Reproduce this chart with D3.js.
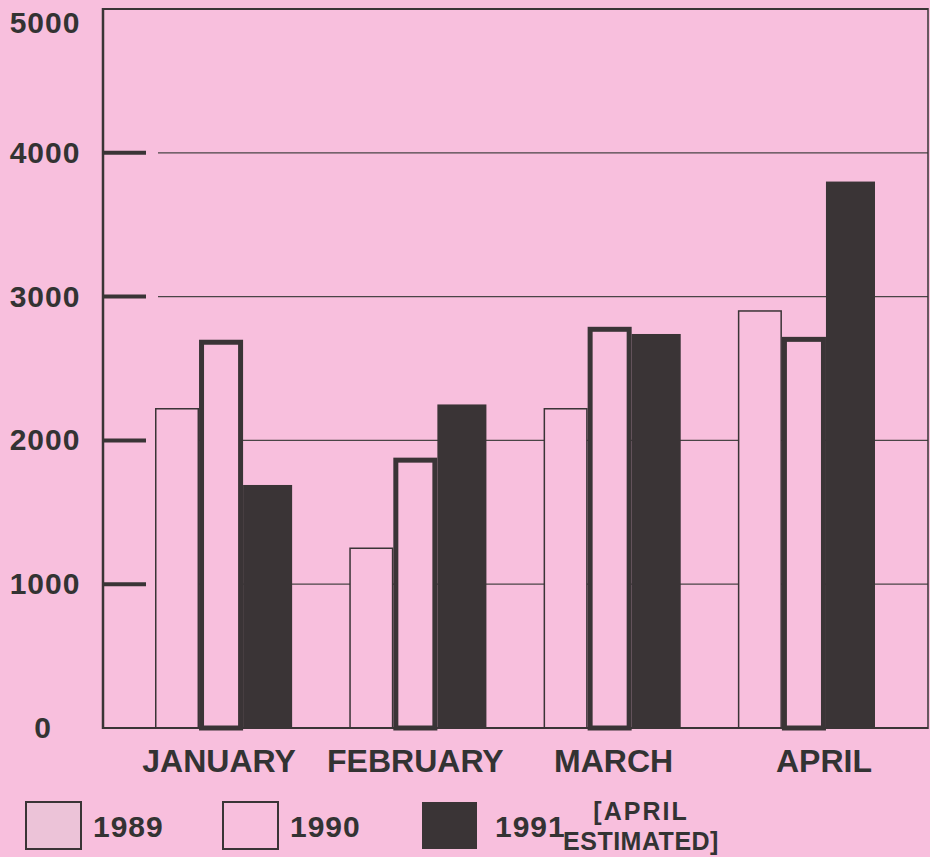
<!DOCTYPE html>
<html>
<head>
    <meta charset="UTF-8">
    <title>Monthly totals 1989-1991</title>
    <script type="text/javascript" src="https://d3js.org/d3.v7.min.js"></script>
    <style>
        html, body { margin: 0; padding: 0; background: #f8bfdd; }
        svg { display: block; }
        text { font-family: "Liberation Sans", Arial, sans-serif; font-weight: bold; fill: #333; }
    </style>
</head>
<body>
    <div id="chart"></div>
    <script>
        var months = ["JANUARY", "FEBRUARY", "MARCH", "APRIL"];
        var years = ["1989", "1990", "1991"];
        var values1989 = [2220, 1250, 2220, 2900];
        var values1990 = [2700, 1880, 2790, 2720];
        var values1991 = [1690, 2250, 2740, 3800];
        var yTicks = [0, 1000, 2000, 3000, 4000, 5000];

        var width = 930, height = 857;
        var ink = "#3a3436", bg = "#f8bfdd";

        var svg = d3.select("#chart").append("svg")
            .attr("width", width).attr("height", height);

        var y = d3.scaleLinear().domain([0, 5000]).range([728, 9]);
        var x = d3.scaleBand().domain(months).range([155, 870]).paddingInner(0.32).paddingOuter(0);
        var xs = d3.scaleBand().domain(years).range([0, x.bandwidth()]);

        // gridlines
        svg.append("g").selectAll("line")
            .data(yTicks.filter(function (d) { return d > 0 && d < 5000; }))
            .enter().append("line")
            .attr("x1", 158).attr("x2", 928)
            .attr("y1", function (d) { return y(d); })
            .attr("y2", function (d) { return y(d); })
            .attr("stroke", "#4a4446").attr("stroke-width", 1.2);

        // short tick marks
        svg.append("g").selectAll("line")
            .data(yTicks.filter(function (d) { return d > 0 && d < 5000; }))
            .enter().append("line")
            .attr("x1", 104).attr("x2", 146)
            .attr("y1", function (d) { return y(d); })
            .attr("y2", function (d) { return y(d); })
            .attr("stroke", ink).attr("stroke-width", 4);

        // tick labels
        svg.append("g").selectAll("text")
            .data(yTicks)
            .enter().append("text")
            .attr("x", function (d) { return d === 0 ? 43 : 45; })
            .attr("y", function (d) { return d === 5000 ? 33 : y(d) + 10; })
            .attr("text-anchor", "middle")
            .attr("font-size", 30)
            .attr("letter-spacing", 1)
            .text(function (d) { return d; });

        var series = [values1989, values1990, values1991];
        var groups = svg.append("g").selectAll("g")
            .data(months)
            .enter().append("g")
            .attr("transform", function (d) { return "translate(" + x(d) + ",0)"; });

        groups.selectAll("rect")
            .data(function (m, i) {
                return years.map(function (yr, k) { return { year: yr, value: series[k][i] }; });
            })
            .enter().append("rect")
            .attr("x", function (d) {
                return xs(d.year) + (d.year === "1990" ? 2.5 : d.year === "1989" ? 0.75 : 0);
            })
            .attr("width", function (d) {
                return d.year === "1990" ? xs.bandwidth() - 5 : d.year === "1989" ? xs.bandwidth() - 1.5 : xs.bandwidth() + 5;
            })
            .attr("y", function (d) { return y(d.value) + (d.year === "1990" ? 2.5 : 0); })
            .attr("height", function (d) { return y(0) - y(d.value) - (d.year === "1990" ? 2.5 : 0); })
            .attr("fill", function (d) { return d.year === "1991" ? ink : bg; })
            .attr("stroke", ink)
            .attr("stroke-width", function (d) { return d.year === "1990" ? 5 : d.year === "1989" ? 1.5 : 0; });

        // frame
        svg.append("line").attr("x1", 103).attr("x2", 928).attr("y1", 728).attr("y2", 728)
            .attr("stroke", ink).attr("stroke-width", 2);
        svg.append("line").attr("x1", 103).attr("x2", 928).attr("y1", 9).attr("y2", 9)
            .attr("stroke", ink).attr("stroke-width", 2);
        svg.append("line").attr("x1", 103).attr("x2", 103).attr("y1", 8).attr("y2", 729)
            .attr("stroke", ink).attr("stroke-width", 2.5);
        svg.append("line").attr("x1", 928).attr("x2", 928).attr("y1", 8).attr("y2", 729)
            .attr("stroke", ink).attr("stroke-width", 1.5);

        // month labels (April sits right of its bars in the original)
        var labelShift = [-2, 0, 4, 20];
        svg.append("g").selectAll("text")
            .data(months)
            .enter().append("text")
            .attr("x", function (d, i) { return x(d) + x.bandwidth() / 2 + labelShift[i]; })
            .attr("y", 772)
            .attr("text-anchor", "middle")
            .attr("font-size", 32)
            .text(function (d) { return d; });

        // legend
        var legendX = [26, 223, 422];
        var legend = svg.append("g").selectAll("g")
            .data(years)
            .enter().append("g")
            .attr("transform", function (d, i) { return "translate(" + legendX[i] + ",802)"; });
        legend.append("rect")
            .attr("width", 55).attr("height", 47)
            .attr("fill", function (d) { return d === "1991" ? ink : d === "1989" ? "#ecc3d8" : bg; })
            .attr("stroke", ink).attr("stroke-width", function (d) { return d === "1991" ? 0 : 2; });
        legend.append("text")
            .attr("x", function (d) { return d === "1991" ? 73 : 67; })
            .attr("y", 35)
            .attr("font-size", 30)
            .attr("letter-spacing", 1)
            .text(function (d) { return d; });

        svg.append("text").attr("x", 641).attr("y", 820).attr("text-anchor", "middle")
            .attr("font-size", 25).attr("letter-spacing", 2).text("[APRIL");
        svg.append("text").attr("x", 641).attr("y", 850).attr("text-anchor", "middle")
            .attr("font-size", 25).attr("letter-spacing", 0.5).text("ESTIMATED]");
    </script>
</body>
</html>
